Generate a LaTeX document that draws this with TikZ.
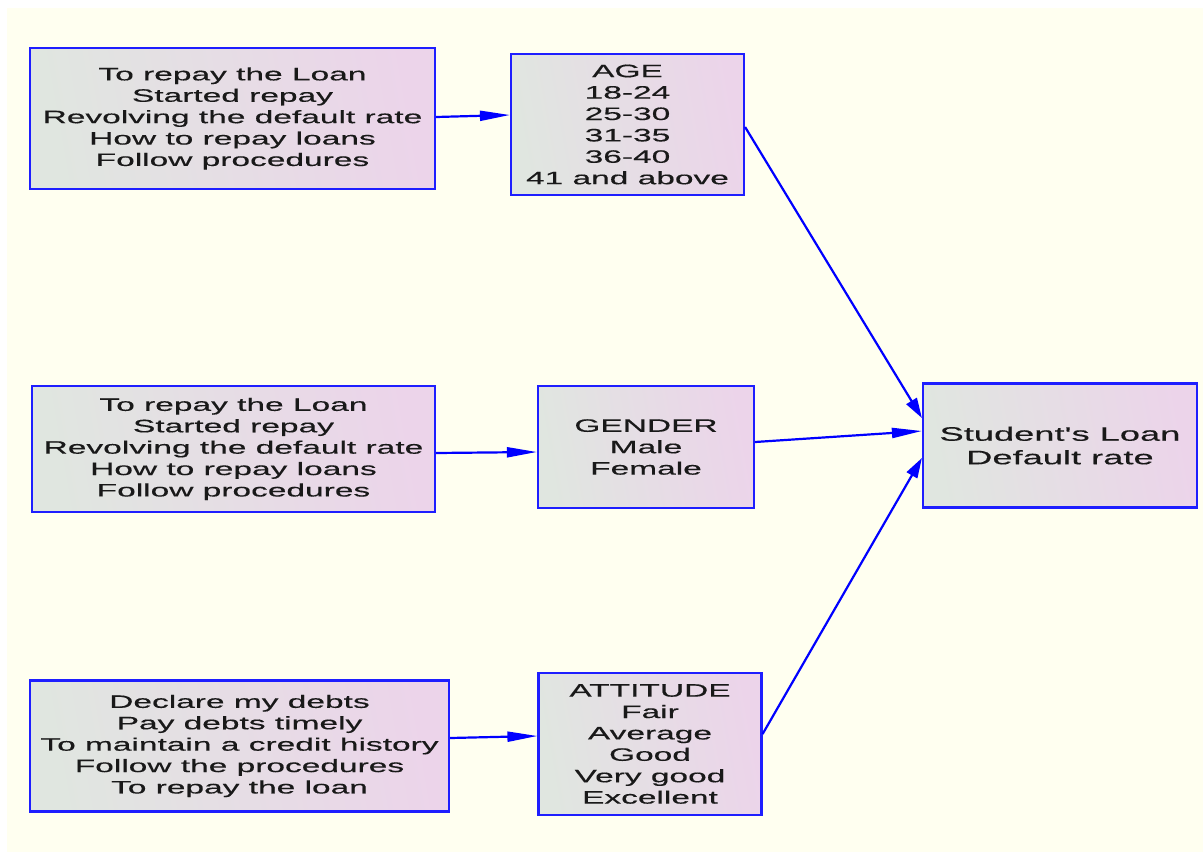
\documentclass[tikz,border=0pt]{standalone}
\usepackage{fontspec}
\usetikzlibrary{arrows.meta}
\newfontfamily\diagfont[FakeStretch=1.86,FakeBold=0.4]{Liberation Sans}
\definecolor{ivorybg}{RGB}{255,255,240}
\definecolor{gleft}{RGB}{224,230,224}
\definecolor{gright}{RGB}{236,212,234}
\definecolor{bordblue}{RGB}{30,30,255}
\begin{document}
\begin{tikzpicture}[x=1pt,y=-1pt,
  box/.style={draw=bordblue,line width=2.2pt,rectangle,inner sep=0pt,
    left color=gleft,right color=gright,shading angle=100,
    align=center,text=black!90,
    font=\diagfont\fontsize{18}{21.4}\selectfont},
  hconn/.style={draw=blue,line width=2.2pt,-{Triangle[length=30pt,width=10pt]}},
  dconn/.style={draw=blue,line width=2.2pt,-{Triangle[length=20pt,width=12pt]}}]
\useasboundingbox (0,0) rectangle (1203,852);
\fill[white] (0,0) rectangle (1203,852);
\fill[ivorybg] (7,8) rectangle (1203,852);

\node[box,minimum width=405pt,minimum height=141pt] (A1) at (232.5,118.5)
  {To repay the Loan\\Started repay\\Revolving the default rate\\How to repay loans\\Follow procedures};
\node[box,minimum width=233pt,minimum height=141pt] (AGE) at (627.5,124.5)
  {AGE\\18-24\\25-30\\31-35\\36-40\\41 and above};
\node[box,minimum width=403pt,minimum height=126pt] (B1) at (233.5,449)
  {To repay the Loan\\Started repay\\Revolving the default rate\\How to repay loans\\Follow procedures};
\node[box,minimum width=216pt,minimum height=122pt] (GEN) at (646,447)
  {GENDER\\Male\\Female};
\node[box,minimum width=419pt,minimum height=131pt] (C1) at (239.5,746)
  {Declare my debts\\Pay debts timely\\To maintain a credit history\\Follow the procedures\\To repay the loan};
\node[box,minimum width=223pt,minimum height=142pt] (ATT) at (650,744)
  {ATTITUDE\\Fair\\Average\\Good\\Very good\\Excellent};
\node[box,minimum width=274pt,minimum height=124pt,font=\diagfont\fontsize{19.5}{23.5}\selectfont] (S) at (1060,445.5)
  {Student's Loan\\Default rate};

\draw[hconn] ([yshift=1.5pt]A1.east) -- ([yshift=9.5pt]AGE.west);
\draw[hconn] ([yshift=-4pt]B1.east) -- ([yshift=-5pt]GEN.west);
\draw[hconn] ([yshift=8pt]C1.east) -- ([yshift=8pt]ATT.west);
\draw[dconn] ([yshift=-2.5pt]AGE.east) -- ([yshift=27.5pt]S.west);
\draw[hconn] ([yshift=5pt]GEN.east) -- ([yshift=14.5pt]S.west);
\draw[dconn] ([yshift=10pt]ATT.east) -- ([yshift=-12.5pt]S.west);
\end{tikzpicture}
\end{document}
